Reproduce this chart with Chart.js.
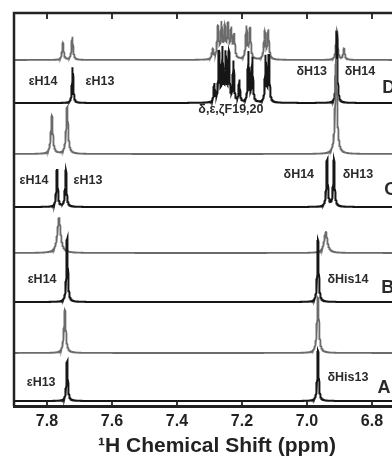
<!DOCTYPE html>
<html>
<head>
<meta charset="utf-8">
<script src="https://cdn.jsdelivr.net/npm/chart.js@4/dist/chart.umd.min.js"></script>
<style>
  html, body { margin: 0; padding: 0; background: #fff; overflow: hidden; }
  #wrap { width: 430px; height: 469px; }
</style>
</head>
<body>
<div id="wrap"><canvas id="c" width="430" height="469"></canvas></div>
<script>
// Chemical-shift axis (ppm), drawn high to low
const tickValues = [7.8, 7.6, 7.4, 7.2, 7.0, 6.8];
const ppmLow = 6.652;
const ppmHigh = 7.9015;

// Stacked traces, bottom to top: name, vertical offset
const traceNames   = ['A1', 'A2', 'B1', 'B2', 'C1', 'C2', 'D1', 'D2'];
const traceOffsets = [5, 53, 104, 153, 199, 252, 303, 346];

// Peak lists for each trace: [shift ppm, height]
const peaksA1 = [[7.738, 40], [6.966, 50]];
const peaksA2 = [[7.745, 43], [6.966, 55]];
const peaksB1 = [[7.738, 64], [6.966, 62]];
const peaksB2 = [[7.763, 35], [6.942, 21]];
const peaksC1 = [[7.769, 37], [7.742, 37], [6.938, 47], [6.917, 47]];
const peaksC2 = [[7.785, 38], [7.738, 47], [6.910, 95]];
const peaksD1 = [[7.721, 36],
  [7.285, 18], [7.271, 50], [7.260, 52], [7.250, 47], [7.240, 48], [7.226, 40], [7.208, 22],
  [7.180, 50], [7.168, 44], [7.127, 46], [7.117, 47],
  [6.908, 72]];
const peaksD2 = [[7.751, 17], [7.722, 23],
  [7.290, 10], [7.274, 31], [7.263, 34], [7.253, 30], [7.243, 32], [7.233, 28], [7.224, 23],
  [7.186, 32], [7.175, 30], [7.130, 28], [7.119, 29],
  [6.908, 30], [6.886, 11]];
const peakLists = [peaksA1, peaksA2, peaksB1, peaksB2, peaksC1, peaksC2, peaksD1, peaksD2];

// Line half-widths (ppm) per trace
const halfWidths = [0.0025, 0.0035, 0.0025, 0.006, 0.0025, 0.0035, 0.0022, 0.0028];
const blackTrace = [true, false, true, false, true, false, true, false];

// Text annotations: [text, ppm, level, size]
const annotations = [
  ['εH14', 7.812, 324, 12.5], ['εH13', 7.637, 324, 12.5], ['δ,ε,ζF19,20', 7.234, 296, 12.5],
  ['δH13', 6.985, 334, 12.5], ['δH14', 6.837, 334, 12.5], ['D', 6.748, 318, 18],
  ['εH14', 7.840, 225, 12.5], ['εH13', 7.674, 225, 12.5],
  ['δH14', 7.025, 231, 12.5], ['δH13', 6.843, 231, 12.5], ['C', 6.742, 216, 18],
  ['εH14', 7.815, 126, 12.5], ['δHis14', 6.874, 126, 12.5], ['B', 6.751, 118, 18],
  ['εH13', 7.818, 23, 12.5], ['δHis13', 6.874, 28, 12.5], ['A', 6.763, 18, 18]
];

// Build a Lorentzian line-shape spectrum from a peak list
function spectrum(peaks, w, offset) {
  const pts = [];
  for (let x = ppmLow; x <= ppmHigh; x += 0.0004) {
    let y = 0;
    for (const [x0, h] of peaks) {
      const d = (x - x0) / w;
      y += h / (1 + d * d);
    }
    pts.push({ x: x, y: offset + y });
  }
  return pts;
}

const datasets = traceNames.map((name, i) => ({
  label: name,
  data: spectrum(peakLists[i], halfWidths[i], traceOffsets[i]),
  borderColor: blackTrace[i] ? '#161616' : '#6b6b6b',
  borderWidth: blackTrace[i] ? 2 : 1.8,
  pointRadius: 0,
  tension: 0,
  fill: false
}));

// Frame, inward ticks and peak labels
const decor = {
  id: 'decor',
  afterDatasetsDraw(chart) {
    const ctx = chart.ctx;
    const { left, right, top, bottom } = chart.chartArea;
    const xs = chart.scales.x, ys = chart.scales.y;
    ctx.save();
    ctx.strokeStyle = '#222';
    ctx.lineWidth = 2.5;
    ctx.beginPath();
    ctx.moveTo(left, bottom);
    ctx.lineTo(left, top);
    ctx.lineTo(right + 5, top);
    ctx.stroke();
    ctx.lineWidth = 1.8;
    for (const t of tickValues) {
      const px = Math.round(xs.getPixelForValue(t));
      ctx.beginPath();
      ctx.moveTo(px, top); ctx.lineTo(px, top + 6);
      ctx.moveTo(px, bottom); ctx.lineTo(px, bottom - 5);
      ctx.stroke();
    }
    ctx.fillStyle = '#2a2a2a';
    ctx.textAlign = 'center';
    ctx.textBaseline = 'middle';
    for (const [txt, ppm, lvl, size] of annotations) {
      ctx.font = 'bold ' + size + 'px "Liberation Sans", Arial, sans-serif';
      ctx.fillText(txt, xs.getPixelForValue(ppm), ys.getPixelForValue(lvl));
    }
    ctx.restore();
  }
};

new Chart(document.getElementById('c'), {
  type: 'line',
  data: { datasets },
  plugins: [decor],
  options: {
    responsive: false,
    animation: false,
    devicePixelRatio: 1,
    layout: { padding: { left: 14, top: 13, right: 10, bottom: 0 } },
    plugins: { legend: { display: false }, tooltip: { enabled: false } },
    scales: {
      x: {
        type: 'linear',
        reverse: true,
        min: ppmLow,
        max: ppmHigh,
        afterBuildTicks(scale) { scale.ticks = tickValues.map(v => ({ value: v })); },
        afterFit(scale) { scale.height = 63; },
        grid: { display: false, drawTicks: false },
        border: { display: true, color: '#222', width: 3 },
        ticks: {
          padding: 6,
          color: '#222',
          font: { family: '"Liberation Sans", Arial, sans-serif', size: 16, weight: 'bold' },
          maxRotation: 0,
          autoSkip: false,
          callback: v => Number(v).toFixed(1)
        },
        title: {
          display: true,
          text: '¹H Chemical Shift (ppm)',
          color: '#222',
          font: { family: '"Liberation Sans", Arial, sans-serif', size: 21, weight: 'bold' },
          padding: { top: 0, bottom: 10 }
        }
      },
      y: {
        display: false,
        min: 0,
        max: 393
      }
    }
  }
});
</script>
</body>
</html>
